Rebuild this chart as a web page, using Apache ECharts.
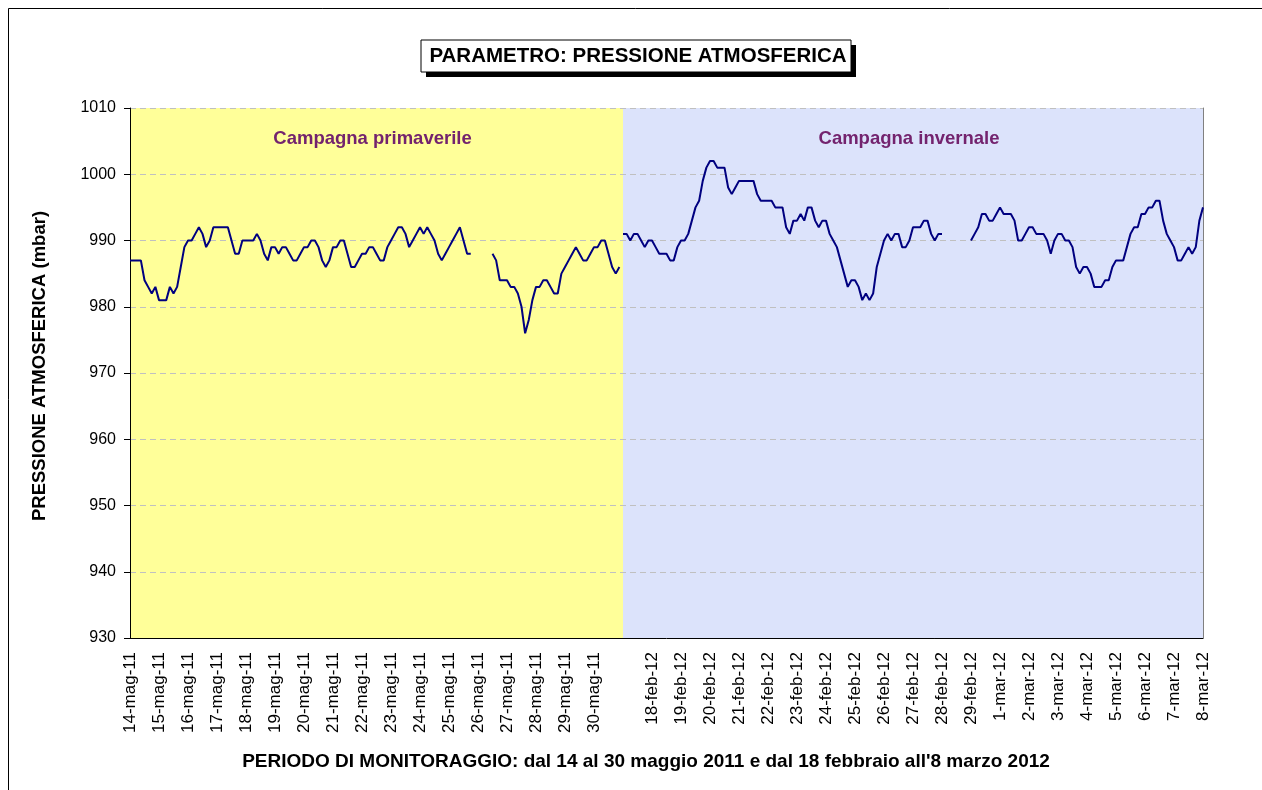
<!DOCTYPE html>
<html>
<head>
<meta charset="utf-8">
<script src="https://cdn.jsdelivr.net/npm/echarts@6/dist/echarts.min.js"></script>
<style>
html,body{margin:0;padding:0;background:#fff;}
#chart{width:1262px;height:790px;}
</style>
</head>
<body>
<div id="chart"></div>
<script>
// Tick labels, one per day slot (index 17 is the unlabelled boundary slot)
const dayLabels = [
  "14-mag-11","15-mag-11","16-mag-11","17-mag-11","18-mag-11","19-mag-11","20-mag-11",
  "21-mag-11","22-mag-11","23-mag-11","24-mag-11","25-mag-11","26-mag-11","27-mag-11",
  "28-mag-11","29-mag-11","30-mag-11","",
  "18-feb-12","19-feb-12","20-feb-12","21-feb-12","22-feb-12","23-feb-12","24-feb-12",
  "25-feb-12","26-feb-12","27-feb-12","28-feb-12","29-feb-12","1-mar-12","2-mar-12",
  "3-mar-12","4-mar-12","5-mar-12","6-mar-12","7-mar-12","8-mar-12"
];
const samplesPerDay = 8; // one reading every 3 hours
const springStartDay = 0;
const winterStartDay = 17;
// Pressure (mbar), spring campaign, 3-hourly from 14-mag-11
const springPressure = [
  987,987,987,987,984,983,982,983,
  981,981,981,983,982,983,986,989,
  990,990,991,992,991,989,990,992,
  992,992,992,992,990,988,988,990,
  990,990,990,991,990,988,987,989,
  989,988,989,989,988,987,987,988,
  989,989,990,990,989,987,986,987,
  989,989,990,990,988,986,986,987,
  988,988,989,989,988,987,987,989,
  990,991,992,992,991,989,990,991,
  992,991,992,991,990,988,987,988,
  989,990,991,992,990,988,988,null,
  null,null,null,null,988,987,984,984,
  984,983,983,982,980,976,978,981,
  983,983,984,984,983,982,982,985,
  986,987,988,989,988,987,987,988,
  989,989,990,990,988,986,985,986
];
// Pressure (mbar), winter campaign, 3-hourly
const winterPressure = [
  991,991,990,991,991,990,989,990,
  990,989,988,988,988,987,987,989,
  990,990,991,993,995,996,999,1001,
  1002,1002,1001,1001,1001,998,997,998,
  999,999,999,999,999,997,996,996,
  996,996,995,995,995,992,991,993,
  993,994,993,995,995,993,992,993,
  993,991,990,989,987,985,983,984,
  984,983,981,982,981,982,986,988,
  990,991,990,991,991,989,989,990,
  992,992,992,993,993,991,990,991,
  991,null,null,null,null,null,null,null,
  990,991,992,994,994,993,993,994,
  995,994,994,994,993,990,990,991,
  992,992,991,991,991,990,988,990,
  991,991,990,990,989,986,985,986,
  986,985,983,983,983,984,984,986,
  987,987,987,989,991,992,992,994,
  994,995,995,996,996,993,991,990,
  989,987,987,988,989,988,989,993,
  995
];
const campaigns = [
  {name: "Campagna primaverile", from: 0, to: 17, color: "#FFFF99"},
  {name: "Campagna invernale", from: 17, to: 37, color: "#DCE3FB"}
];
const yTicks = {min: 930, max: 1010, step: 10};
const titleText = 'PARAMETRO: PRESSIONE ATMOSFERICA';
const xAxisTitle = "PERIODO DI MONITORAGGIO: dal 14 al 30 maggio 2011 e dal 18 febbraio all'8 marzo 2012";
const yAxisTitle = 'PRESSIONE ATMOSFERICA (mbar)';

function toSeries(values, start) {
  return values.map((v, i) => [start + i / samplesPerDay, v]);
}

const chart = echarts.init(document.getElementById('chart'));
const FONT = 'Liberation Sans, Arial, sans-serif';

chart.setOption({
  animation: false,
  backgroundColor: '#fff',
  grid: {left: 130, right: 59, top: 108, bottom: 152, show: false},
  xAxis: {
    type: 'value', min: 0, max: dayLabels.length - 1, interval: 1, z: 3,
    axisLine: {show: true, onZero: false, lineStyle: {color: '#000', width: 1}},
    axisTick: {show: false},
    splitLine: {show: false},
    axisLabel: {
      rotate: 90, margin: 14, fontFamily: FONT, fontSize: 17, color: '#000',
      showMinLabel: true, showMaxLabel: true, hideOverlap: false,
      formatter: v => dayLabels[Math.round(v)] || ''
    }
  },
  yAxis: [{
    type: 'value', min: yTicks.min, max: yTicks.max, interval: yTicks.step, z: 3,
    axisLine: {show: true, lineStyle: {color: '#000', width: 1}},
    axisTick: {show: true, length: 6, lineStyle: {color: '#000'}},
    axisLabel: {margin: 14, fontFamily: FONT, fontSize: 16, color: '#000', formatter: v => String(v)},
    splitLine: {show: true, lineStyle: {color: '#c0c0c0', type: [6, 4], width: 1}}
  }, {
    type: 'value', position: 'right', min: yTicks.min, max: yTicks.max, interval: yTicks.step, z: 3,
    axisLine: {show: true, lineStyle: {color: '#808080', width: 1}},
    axisTick: {show: false}, axisLabel: {show: false}, splitLine: {show: false}
  }],
  graphic: [
    {type: 'rect', shape: {x: 426, y: 45, width: 430, height: 32}, style: {fill: '#000'}, z: 10},
    {type: 'rect', shape: {x: 421, y: 40, width: 430, height: 32}, style: {fill: '#fff', stroke: '#000', lineWidth: 1}, z: 11},
    {type: 'text', x: 638, y: 56, z: 12, style: {text: titleText, fontFamily: FONT, fontSize: 20.5, fontWeight: 'bold', fill: '#000', align: 'center', verticalAlign: 'middle'}},
    {type: 'text', x: 646, y: 762, z: 12, style: {text: xAxisTitle, fontFamily: FONT, fontSize: 19, fontWeight: 'bold', fill: '#000', align: 'center', verticalAlign: 'middle'}},
    {type: 'text', x: 40, y: 366, rotation: Math.PI / 2, z: 12, style: {text: yAxisTitle, fontFamily: FONT, fontSize: 18.5, fontWeight: 'bold', fill: '#000', align: 'center', verticalAlign: 'middle'}},
    {type: 'rect', shape: {x: 8.5, y: 8.5, width: 1270, height: 800}, style: {fill: null, stroke: '#000', lineWidth: 1}, z: 0, silent: true}
  ],
  series: [
    {
      type: 'line', data: [], z: 1, silent: true,
      markArea: {
        silent: true, z: 1,
        data: campaigns.map(c => [
          {xAxis: c.from, itemStyle: {color: c.color},
           label: {show: true, position: 'insideTop', distance: 21, formatter: c.name, offset: [-4, 0],
                   fontFamily: FONT, fontSize: 18.5, fontWeight: 'bold', color: '#73236E'}},
          {xAxis: c.to}
        ])
      }
    },
    {
      type: 'line', data: toSeries(springPressure, springStartDay), showSymbol: false,
      connectNulls: false, lineStyle: {color: '#000080', width: 2}, z: 5
    },
    {
      type: 'line', data: toSeries(winterPressure, winterStartDay), showSymbol: false,
      connectNulls: false, lineStyle: {color: '#000080', width: 2}, z: 5
    }
  ]
});
</script>
</body>
</html>
